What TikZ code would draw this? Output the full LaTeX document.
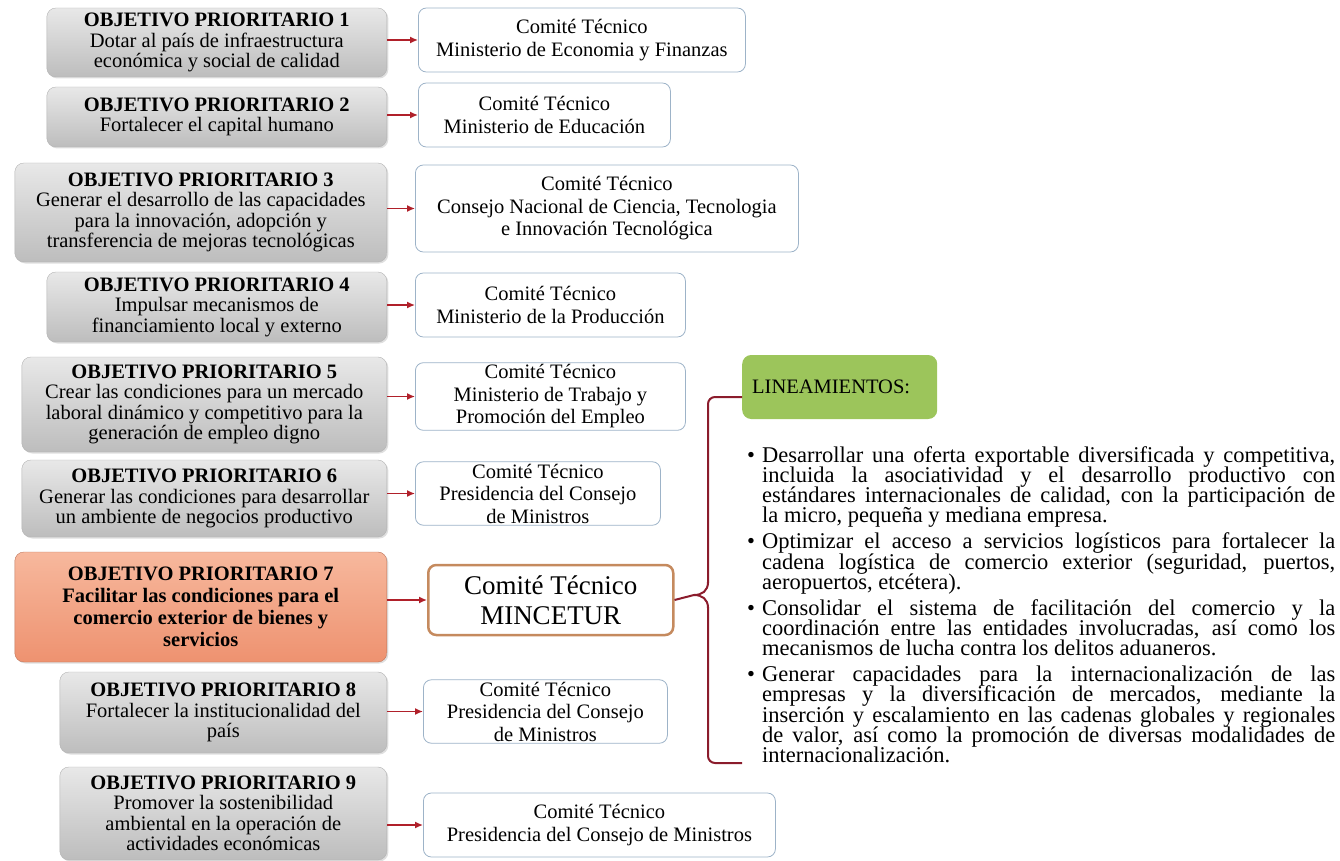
\documentclass[tikz,border=0pt]{standalone}
\usepackage{fontspec}
\setmainfont{Liberation Serif}
\usetikzlibrary{arrows.meta,shadows}

\definecolor{grisclaro}{HTML}{E8E8E8}
\definecolor{grisoscuro}{HTML}{BDBDBD}
\definecolor{salmonclaro}{HTML}{F7B89D}
\definecolor{salmonoscuro}{HTML}{EE9270}
\definecolor{comborde}{HTML}{9DB3C8}
\definecolor{mincecolor}{HTML}{C58A5E}
\definecolor{flechacolor}{HTML}{B0202A}
\definecolor{llavecolor}{HTML}{8B1C2C}
\definecolor{verde}{HTML}{9CC55B}

\newcommand{\vineta}{\hangindent=15pt\hangafter=1\noindent\hbox to 15pt{\textbullet\hss}}

\begin{document}
\begin{tikzpicture}[x=1pt,y=-1pt,
  objbox/.style={anchor=east,rounded corners=9pt,draw=gray!60,top color=grisclaro,bottom color=grisoscuro,
    align=center,inner sep=2pt,font=\fontsize{20.5}{20.5}\selectfont,
    drop shadow={opacity=0.25,shadow xshift=1.5pt,shadow yshift=-1.5pt}},
  objclave/.style={objbox,draw=salmonoscuro!80!black,top color=salmonclaro,bottom color=salmonoscuro,
    font=\fontsize{20.5}{22}\selectfont\bfseries},
  combox/.style={anchor=west,rounded corners=8pt,draw=comborde,fill=white,line width=0.8pt,
    align=center,inner sep=2pt,font=\fontsize{20.5}{22.5}\selectfont},
  mincebox/.style={combox,draw=mincecolor,line width=2.5pt,font=\fontsize{27}{30}\selectfont},
  flecha/.style={-{Latex[length=8pt,width=7pt]},draw=flechacolor,line width=1.4pt},
  llave/.style={draw=llavecolor,line width=2pt},
  linbox/.style={anchor=west,rounded corners=9pt,fill=verde,text width=175,inner xsep=10pt,
    minimum height=64,align=left,font=\fontsize{20.5}{22}\selectfont}]

\useasboundingbox (0,0) rectangle (1340,861);

% objetivos prioritarios
\node at (387,42.5) [objbox,minimum width=340,minimum height=69] (o1) {{\bfseries OBJETIVO PRIORITARIO 1}\\Dotar al país de infraestructura\\económica y social de calidad};
\node at (387,117) [objbox,minimum width=340,minimum height=60] (o2) {{\bfseries OBJETIVO PRIORITARIO 2}\\Fortalecer el capital humano};
\node at (387,212.5) [objbox,minimum width=372,minimum height=99] (o3) {{\bfseries OBJETIVO PRIORITARIO 3}\\Generar el desarrollo de las capacidades\\para la innovación, adopción y\\transferencia de mejoras tecnológicas};
\node at (387,307) [objbox,minimum width=340,minimum height=70] (o4) {{\bfseries OBJETIVO PRIORITARIO 4}\\Impulsar mecanismos de\\financiamiento local y externo};
\node at (387,404.5) [objbox,minimum width=365,minimum height=95] (o5) {{\bfseries OBJETIVO PRIORITARIO 5}\\Crear las condiciones para un mercado\\laboral dinámico y competitivo para la\\generación de empleo digno};
\node at (387,498.5) [objbox,minimum width=365,minimum height=77] (o6) {{\bfseries OBJETIVO PRIORITARIO 6}\\Generar las condiciones para desarrollar\\un ambiente de negocios productivo};
\node at (387,607) [objclave,minimum width=372,minimum height=110] (o7) {OBJETIVO PRIORITARIO 7\\Facilitar las condiciones para el\\comercio exterior de bienes y\\servicios};
\node at (387,712.5) [objbox,minimum width=327,minimum height=81] (o8) {{\bfseries OBJETIVO PRIORITARIO 8}\\Fortalecer la institucionalidad del\\país};
\node at (387,813.5) [objbox,minimum width=327,minimum height=93] (o9) {{\bfseries OBJETIVO PRIORITARIO 9}\\Promover la sostenibilidad\\ambiental en la operación de\\actividades económicas};

% comites tecnicos
\node at (418,40) [combox,minimum width=327,minimum height=64] (c1) {Comité Técnico\\Ministerio de Economia y Finanzas};
\node at (418,115) [combox,minimum width=252,minimum height=64] (c2) {Comité Técnico\\Ministerio de Educación};
\node at (415,208.5) [combox,minimum width=383,minimum height=87] (c3) {Comité Técnico\\Consejo Nacional de Ciencia, Tecnologia\\e Innovación Tecnológica};
\node at (415,305) [combox,minimum width=270,minimum height=64] (c4) {Comité Técnico\\Ministerio de la Producción};
\node at (415,396.5) [combox,minimum width=270,minimum height=63] (c5) {Comité Técnico\\Ministerio de Trabajo y\\Promoción del Empleo};
\node at (415,493.5) [combox,minimum width=245,minimum height=63] (c6) {Comité Técnico\\Presidencia del Consejo\\de Ministros};
\node at (427,600) [mincebox,minimum width=245,minimum height=70] (c7) {Comité Técnico\\MINCETUR};
\node at (423,711.5) [combox,minimum width=244,minimum height=63] (c8) {Comité Técnico\\Presidencia del Consejo\\de Ministros};
\node at (423,825) [combox,minimum width=352,minimum height=64] (c9) {Comité Técnico\\Presidencia del Consejo de Ministros};

\foreach \i in {1,...,9}
  \draw [flecha] (o\i.east |- c\i) -- (c\i.west);

% lineamientos
\node at (742,387) [linbox] (lin) {LINEAMIENTOS:};

\node at (747,446) [anchor=north west,text width=588,inner sep=0pt,align=justify,
  font=\fontsize{22.5}{20.3}\selectfont] (lista) {\parskip=5.5pt\lineskiplimit=-20pt
\vineta Desarrollar una oferta exportable diversificada y competitiva,\linebreak incluida la asociatividad y el desarrollo productivo con\linebreak estándares internacionales de calidad, con la participación de\linebreak la micro, pequeña y mediana empresa.\par
\vineta Optimizar el acceso a servicios logísticos para fortalecer la\linebreak cadena logística de comercio exterior (seguridad, puertos,\linebreak aeropuertos, etcétera).\par
\vineta Consolidar el sistema de facilitación del comercio y la\linebreak coordinación entre las entidades involucradas, así como los\linebreak mecanismos de lucha contra los delitos aduaneros.\par
\vineta Generar capacidades para la internacionalización de las\linebreak empresas y la diversificación de mercados, mediante la\linebreak inserción y escalamiento en las cadenas globales y regionales\linebreak de valor, así como la promoción de diversas modalidades de\linebreak internacionalización.\par};

% llave
\coordinate (punta) at (694,595);
\coordinate (cola) at (742,763);
\draw [llave] (c7.east) -- (punta);
\draw [llave,rounded corners=7pt] ([yshift=-10pt]lin.west) -| (708,560) -- (708,583);
\draw [llave] (708,582) .. controls (708,591) and (702,595) .. (punta) .. controls (702,595) and (708,599) .. (708,608);
\draw [llave,rounded corners=7pt] (708,607) -- (708,763) -- (cola);

\end{tikzpicture}
\end{document}
